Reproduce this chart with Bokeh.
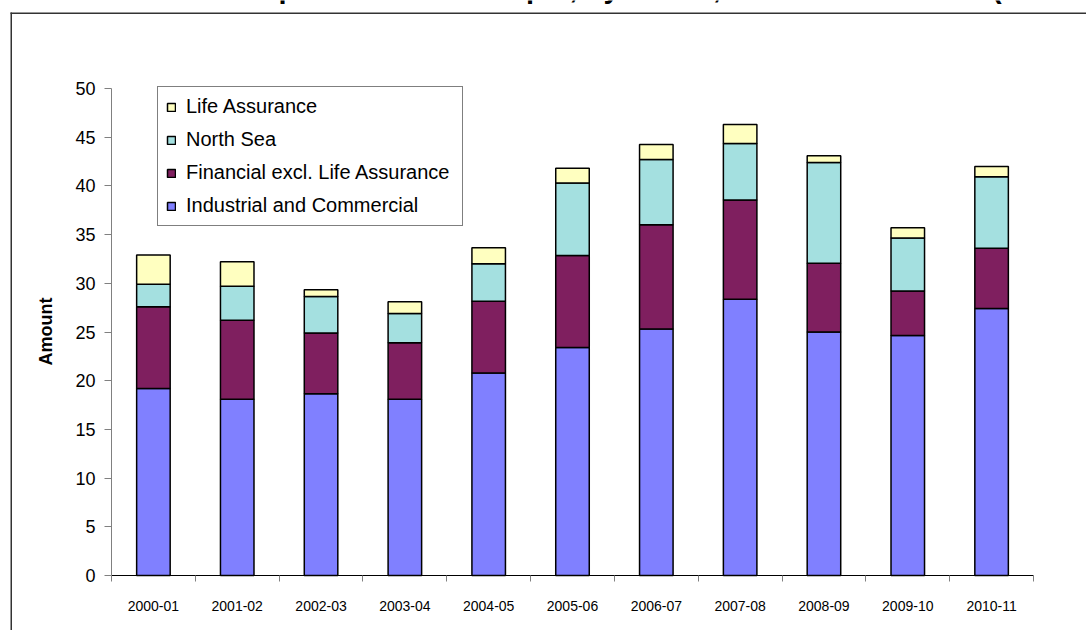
import math
from bokeh.plotting import figure
from bokeh.models import (ColumnDataSource, Legend, LegendItem, FixedTicker,
                          Range1d, Label, BoxAnnotation)
from bokeh.embed import file_html
from bokeh.resources import INLINE

# ---- data ----
categories = ["2000-01", "2001-02", "2002-03", "2003-04", "2004-05", "2005-06",
              "2006-07", "2007-08", "2008-09", "2009-10", "2010-11"]
industrial = [19.2, 18.1, 18.65, 18.1, 20.8, 23.4, 25.3, 28.35, 25.0, 24.65, 27.4]
financial = [8.4, 8.1, 6.25, 5.8, 7.35, 9.45, 10.7, 10.2, 7.05, 4.55, 6.2]
north_sea = [2.3, 3.5, 3.75, 3.0, 3.85, 7.45, 6.7, 5.8, 10.35, 5.45, 7.35]
life_assurance = [3.0, 2.5, 0.7, 1.2, 1.65, 1.5, 1.55, 1.95, 0.7, 1.05, 1.05]
series_names = ["Industrial and Commercial", "Financial excl. Life Assurance",
                "North Sea", "Life Assurance"]
y_ticks = [0, 5, 10, 15, 20, 25, 30, 35, 40, 45, 50]
y_max = 50
title_text = "Corporation Tax receipts, by sector, 2000-01 to 2010-11 (£ billion)"
y_label = "Amount"

colors = ["#8080FF", "#7F1F5F", "#A4E0E0", "#FFFFC0"]
FONT = "Liberation Sans"

# ---- layout (canvas pixels) ----
W, H = 1086, 630
PLOT_L, PLOT_R, PLOT_T, PLOT_B = 111, 1033, 88, 575   # axes box in the picture
n = len(categories)
px_x = (PLOT_R - PLOT_L) / n          # pixels per category
px_y = (PLOT_B - PLOT_T) / y_max      # pixels per unit


def dx(px):   # canvas x pixel -> data x
    return (px - PLOT_L) / px_x


def dy(py):   # canvas y pixel -> data y
    return (PLOT_B - py) / px_y


xs = [i + 0.5 for i in range(n)]
source = ColumnDataSource(dict(x=xs, ind=industrial, fin=financial,
                               ns=north_sea, life=life_assurance))

# the frame covers the whole canvas so that the chart-area border and the
# cut-off title can be drawn; the axes are pinned at x=0 / y=0.
p = figure(width=W, height=H, output_backend="svg", toolbar_location=None,
           title=None,
           x_range=Range1d(dx(0), dx(W)), y_range=Range1d(dy(H), dy(0)),
           min_border=0, min_border_left=0, min_border_right=0,
           min_border_top=0, min_border_bottom=0)
p.outline_line_color = None
p.xgrid.visible = False
p.ygrid.visible = False
p.background_fill_color = "white"
p.border_fill_color = "white"

rends = p.vbar_stack(["ind", "fin", "ns", "life"], x="x", width=0.4,
                     fill_color=colors, line_color="black", line_width=1.5,
                     source=source)

legend = Legend(items=[LegendItem(label=series_names[i], renderers=[rends[i]])
                       for i in reversed(range(4))],
                location=(157, H - 226), orientation="vertical",
                glyph_width=10, glyph_height=10, label_standoff=10,
                label_text_font=FONT, label_text_font_size="20px",
                label_text_color="black", label_width=268,
                padding=8, spacing=10, margin=0,
                border_line_color="black", border_line_width=1,
                background_fill_color="white", background_fill_alpha=1)
p.add_layout(legend)

# y axis
ya = p.yaxis[0]
ya.fixed_location = 0
ya.bounds = (0, y_max)
ya.ticker = FixedTicker(ticks=y_ticks)
ya.axis_line_color = "#808080"
ya.major_tick_line_color = "#808080"
ya.major_tick_out = 7
ya.major_tick_in = 0
ya.minor_tick_out = 0
ya.minor_tick_in = 0
ya.major_label_text_font = FONT
ya.major_label_text_font_size = "18px"
ya.major_label_text_color = "black"
ya.major_label_standoff = 9

# x axis
xa = p.xaxis[0]
xa.fixed_location = 0
xa.bounds = (0, n)
xa.ticker = FixedTicker(ticks=xs, minor_ticks=list(range(n + 1)))
xa.major_label_overrides = {x: c for x, c in zip(xs, categories)}
xa.axis_line_color = "black"
xa.major_tick_out = 0
xa.major_tick_in = 0
xa.minor_tick_out = 6
xa.minor_tick_in = 0
xa.minor_tick_line_color = "#808080"
xa.major_label_text_font = FONT
xa.major_label_text_font_size = "14px"
xa.major_label_text_color = "black"
xa.major_label_standoff = 19

# y-axis title
p.add_layout(Label(x=dx(45), y=dy(331), text=y_label, angle=math.pi / 2,
                   text_font=FONT, text_font_style="bold",
                   text_font_size="18px", text_align="center",
                   text_baseline="middle", text_color="black"))

# chart-area border: only its top and left edges fall inside the picture
BORDER = "#333333"
p.add_layout(BoxAnnotation(left=dx(10), right=dx(11.5), top=dy(12),
                           bottom=None, fill_color=BORDER, fill_alpha=1,
                           line_color=None))
p.add_layout(BoxAnnotation(left=dx(10), right=None, top=dy(12),
                           bottom=dy(13.5), fill_color=BORDER, fill_alpha=1,
                           line_color=None))

# title, cut off by the top edge of the picture
p.add_layout(Label(x=dx(228), y=dy(-13), text=title_text, text_font=FONT,
                   text_font_style="bold", text_font_size="29px",
                   text_baseline="alphabetic", text_align="left",
                   text_color="black"))

open("out.html", "w").write(file_html(p, INLINE))
